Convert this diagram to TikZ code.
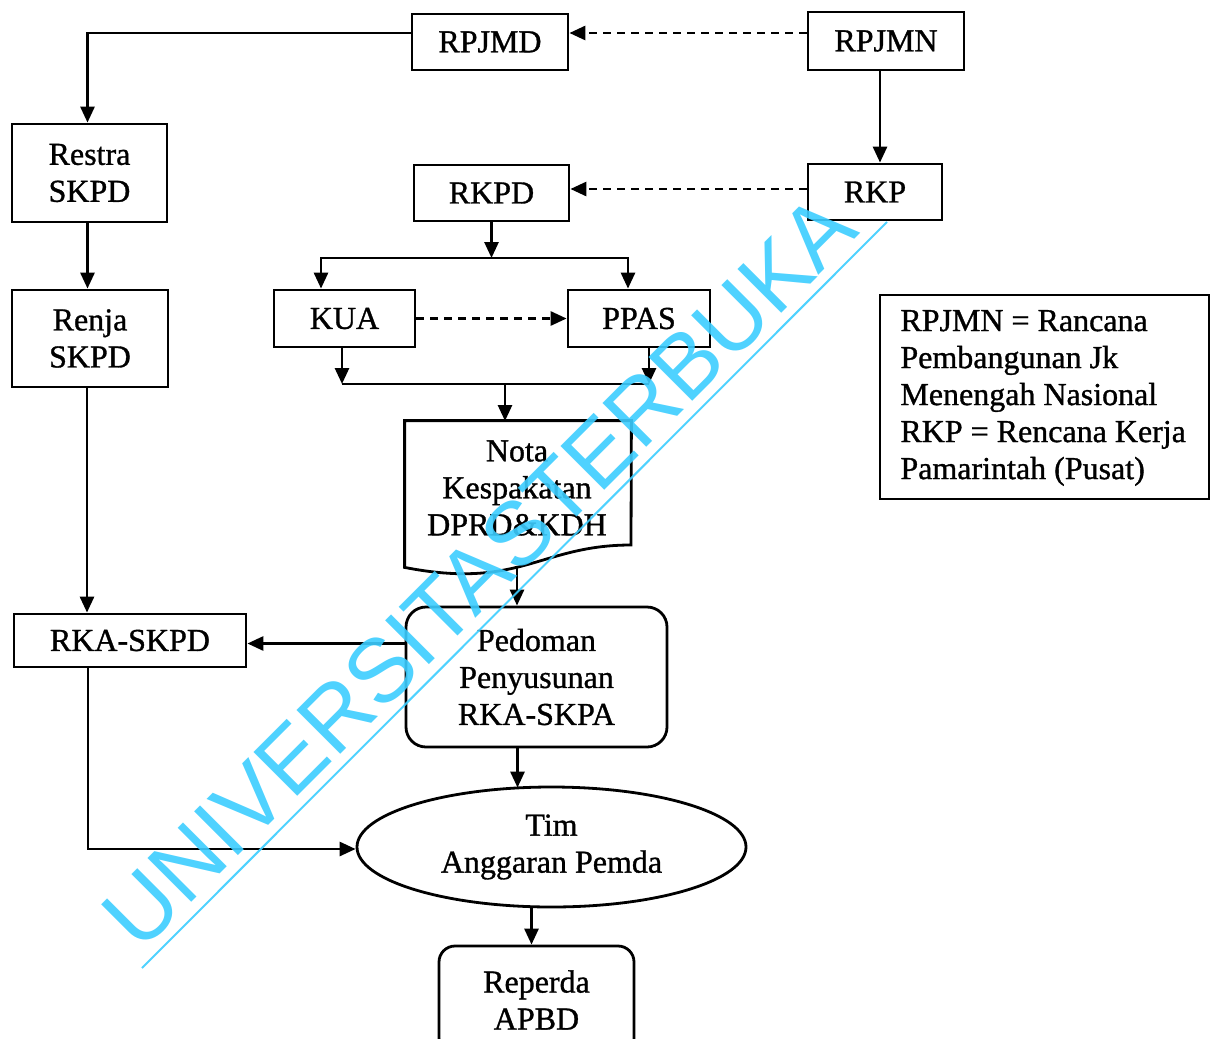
\documentclass[tikz,border=0pt]{standalone}
\usepackage{fontspec}
\setmainfont[FakeBold=1]{Liberation Serif}
\newfontfamily\wmfont{Liberation Sans}
\usetikzlibrary{arrows.meta,shapes.geometric}
\definecolor{wmcol}{RGB}{60,205,255}
\begin{document}
\begin{tikzpicture}[x=0.5pt,y=-0.5pt,
  every node/.style={font=\fontsize{16}{18.5}\selectfont, align=center, inner sep=0pt},
  box/.style={draw, line width=1.4pt},
  rbox/.style={box, rounded corners=10pt},
  arr/.style={line width=1.4pt, -{Triangle[length=8pt,width=7pt]}},
  darr/.style={arr, dash pattern=on 4pt off 3pt},
  plain/.style={line width=1.4pt}]
\useasboundingbox (0,0) rectangle (1214,1038);
% nodes
\node[box, minimum width=78pt, minimum height=28pt] (rpjmd) at (490,42) {RPJMD};
\node[box, minimum width=78pt, minimum height=29pt] (rpjmn) at (886,41) {RPJMN};
\node[box, minimum width=77.5pt, minimum height=49pt] (restra) at (89.5,173) {Restra\\SKPD};
\node[box, minimum width=77.5pt, minimum height=28pt] (rkpd) at (491.5,193) {RKPD};
\node[box, minimum width=67pt, minimum height=28pt] (rkp) at (875,192) {RKP};
\node[box, minimum width=70.5pt, minimum height=28.5pt] (kua) at (344.5,318.5) {KUA};
\node[box, minimum width=71pt, minimum height=28.5pt] (ppas) at (639,318.5) {PPAS};
\node[box, minimum width=78pt, minimum height=48.5pt] (renja) at (90,338.5) {Renja\\SKPD};
\node[box, minimum width=116pt, minimum height=26.5pt] (rka) at (130,640.5) {RKA-SKPD};
\node[rbox, minimum width=130.5pt, minimum height=70pt] (ped) at (536.5,677) {Pedoman\\Penyusunan\\RKA-SKPA};
\node[box, ellipse, minimum width=194.5pt, minimum height=60pt] (tim) at (551.5,847) {Tim\\Anggaran Pemda};
\node[rbox, rounded corners=8pt, minimum width=97.5pt, minimum height=54pt] (rep) at (536.5,1000) {Reperda\\APBD};
% document shape
\node[minimum width=113pt, minimum height=73pt] (nota) at (518,494) {};
\draw[line width=1.4pt] (nota.north west) -- (nota.north east) -- (631,545)
  .. controls (540,545) and (520,590) .. (nota.south west) -- cycle;
\node (notatext) at (517,488) {Nota\\Kespakatan\\DPRD\&KDH};
\coordinate (notatop) at (505,421);
\coordinate (notabot) at (517,568);
% legend
\node[draw, line width=1.2pt, minimum width=164.5pt, minimum height=102pt] (leg) at (1044.5,397) {};
\node[anchor=west, align=left] (legtext) at (900,398) {RPJMN = Rancana\\Pembangunan Jk\\Menengah Nasional\\RKP = Rencana Kerja\\Pamarintah (Pusat)};
% connectors
\draw[darr] ([yshift=4pt]rpjmn.west) -- ([yshift=4pt]rpjmn.west -| rpjmd.east);
\draw[arr] ([yshift=4.5pt]rpjmd.west) -| ([xshift=-1pt]restra.north);
\draw[arr] ([xshift=2.5pt]rkp.north |- rpjmn.south) -- ([xshift=2.5pt]rkp.north);
\draw[darr] ([yshift=1.5pt]rkp.west) -- ([yshift=1.5pt]rkp.west -| rkpd.east);
\draw[arr] ([xshift=-1pt]restra.south) -- ([xshift=-1pt]restra.south |- renja.north);
\coordinate (split) at (491.5,258);
\draw[arr] (rkpd.south) -- (split);
\draw[arr] (split) -| ([xshift=-11.75pt]kua.north);
\draw[arr] (split) -| ([xshift=-5.5pt]ppas.north);
\draw[darr] (kua) -- (ppas);
\coordinate (merge) at (505,384);
\draw[arr] ([xshift=-1.25pt]kua.south) -- ([xshift=-1.25pt]kua.south |- merge);
\draw[arr] ([xshift=5pt]ppas.south) -- ([xshift=5pt]ppas.south |- merge);
\draw[plain] ([xshift=-1.25pt]kua.south |- merge) -- ([xshift=5pt]ppas.south |- merge);
\draw[arr] (merge) -- (notatop);
\draw[arr] (notabot) -- (notabot |- ped.north);
\draw[arr] ([xshift=-1.5pt]renja.south) -- ([xshift=-1.5pt]renja.south |- rka.north -| renja.south);
\draw[arr] ([yshift=-1.5pt]ped.west |- rka.east) -- ([yshift=-1.5pt]rka.east);
\draw[arr] ([xshift=-9.5pt]ped.south) -- ([xshift=-9.5pt,yshift=-1pt]ped.south |- tim.north);
\draw[arr] ([xshift=-21pt]rka.south) |- ([yshift=-1pt]tim.west);
\draw[arr] ([xshift=-2.5pt]rep.north |- tim.south) -- ([xshift=-2.5pt]rep.north);
% watermark
\node[rotate=45, anchor=base west, font=\wmfont\fontsize{45}{50}\selectfont, text=wmcol, text opacity=0.9] (wm) at (140.6,953.8) {UNIVERSITASTERBUKA};
\coordinate (ulA) at (142,968);
\coordinate (ulB) at (887,222);
\draw[wmcol, line width=1pt, opacity=0.9] (ulA) -- (ulB);
\end{tikzpicture}
\end{document}
